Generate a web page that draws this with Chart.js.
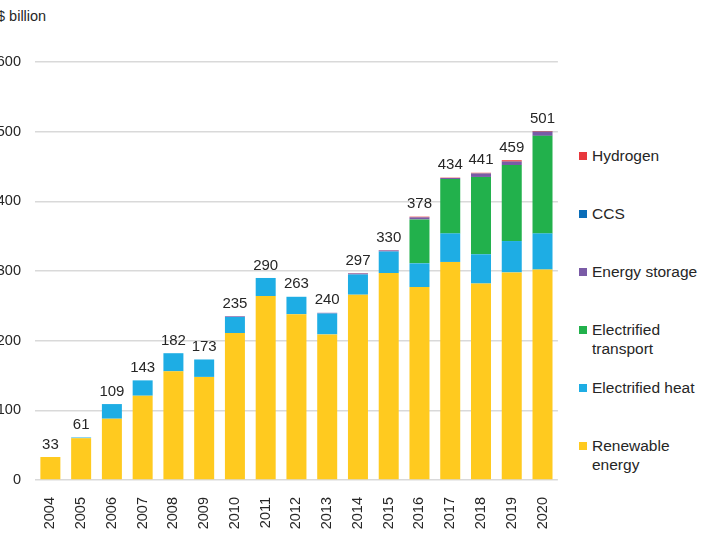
<!DOCTYPE html>
<html>
<head>
<meta charset="utf-8">
<script src="https://cdn.jsdelivr.net/npm/chart.js@4"></script>
<style>
    body { margin: 0; background: #fff; font-family: "Liberation Sans", Arial, sans-serif; overflow: hidden; }
    #wrap { position: relative; width: 711px; height: 533px; }
    #caixa { position: absolute; left: 0; top: 0; width: 569px; height: 533px; }
    #unidade { position: absolute; left: -3px; top: 8px; font-size: 14.5px; color: #262626; }
    #legenda { position: absolute; left: 579px; top: 146px; }
    .item { height: 58px; font-size: 15.5px; line-height: 19px; color: #262626; position: relative; padding-left: 13px; white-space: pre-line; }
    .quad { position: absolute; left: 0; top: 6px; width: 8px; height: 8px; }
</style>
</head>
<body>
<div id="wrap">
    <div id="unidade">$ billion</div>
    <div id="caixa"><canvas id="grafico"></canvas></div>
    <div id="legenda"></div>
</div>
<script>
var anos = ['2004', '2005', '2006', '2007', '2008', '2009', '2010', '2011', '2012', '2013', '2014', '2015', '2016', '2017', '2018', '2019', '2020'];
var totais = [33, 61, 109, 143, 182, 173, 235, 290, 263, 240, 297, 330, 378, 434, 441, 459, 501];

var renovavel = [33, 60, 88, 121, 156, 148, 211, 264, 238, 209, 266, 297, 277, 313, 282, 298, 302];
var calor = [0, 1, 21, 22, 26, 25, 23, 26, 25, 30, 29, 31, 34, 41, 42, 45, 52];
var transporte = [0, 0, 0, 0, 0, 0, 0, 0, 0, 0, 0, 0, 63, 78, 111, 109, 140];
var armazenamento = [0, 0, 0, 0, 0, 0, 1, 0, 0, 1, 1.5, 1.5, 3, 1.5, 4.7, 4.7, 5.7];
var ccs = [0, 0, 0, 0, 0, 0, 0, 0, 0, 0, 0, 0, 0, 0, 0.3, 0.3, 0.3];
var hidrogenio = [0, 0, 0, 0, 0, 0, 0, 0, 0, 0, 0.5, 0.5, 1, 0.5, 1, 2, 1];

var ticksY = [0, 100, 200, 300, 400, 500, 600];

// escreve o total em cima de cada barra
var rotuloTotal = {
    id: 'rotuloTotal',
    afterDatasetsDraw: function (chart) {
        var ctx = chart.ctx;
        var topo = chart.getDatasetMeta(chart.data.datasets.length - 1);
        ctx.save();
        ctx.font = '15px "Liberation Sans", Arial, sans-serif';
        ctx.fillStyle = '#262626';
        ctx.textAlign = 'center';
        ctx.textBaseline = 'bottom';
        for (var i = 0; i < totais.length; i++) {
            var barra = topo.data[i];
            var y = chart.scales.y.getPixelForValue(totais[i]);
            ctx.fillText(totais[i], barra.x, y - 5);
        }
        ctx.restore();
    }
};

var ctx = document.getElementById('grafico').getContext('2d');
var chart = new Chart(ctx, {
    type: 'bar',
    data: {
        labels: anos,
        datasets: [
            { label: 'Renewable energy', data: renovavel, backgroundColor: '#FFCA1F', legenda: 'Renewable\nenergy' },
            { label: 'Electrified heat', data: calor, backgroundColor: '#1EADE4', legenda: 'Electrified heat' },
            { label: 'Electrified transport', data: transporte, backgroundColor: '#22B14C', legenda: 'Electrified\ntransport' },
            { label: 'Energy storage', data: armazenamento, backgroundColor: '#7A5BA6', legenda: 'Energy storage' },
            { label: 'CCS', data: ccs, backgroundColor: '#0A6DB8', legenda: 'CCS' },
            { label: 'Hydrogen', data: hidrogenio, backgroundColor: '#E8383D', legenda: 'Hydrogen' }
        ]
    },
    options: {
        responsive: true,
        maintainAspectRatio: false,
        animation: false,
        layout: { padding: { top: 62, right: 3, left: 0, bottom: 0 } },
        datasets: { bar: { categoryPercentage: 1, barPercentage: 0.65 } },
        plugins: {
            legend: { display: false },
            tooltip: { enabled: false }
        },
        scales: {
            x: {
                stacked: true,
                grid: { display: false },
                border: { display: false },
                ticks: {
                    color: '#262626',
                    font: { size: 14.5, family: '"Liberation Sans", Arial, sans-serif' },
                    minRotation: 90,
                    maxRotation: 90,
                    padding: 9
                },
                afterFit: function (scale) { scale.height = 53; }
            },
            y: {
                stacked: true,
                min: 0,
                max: 600,
                afterBuildTicks: function (scale) {
                    scale.ticks = ticksY.map(function (v) { return { value: v }; });
                },
                grid: { color: '#D9D9D9', lineWidth: 1.5, drawTicks: false },
                border: { display: false },
                ticks: {
                    color: '#262626',
                    font: { size: 14.5, family: '"Liberation Sans", Arial, sans-serif' },
                    padding: 14
                },
                afterFit: function (scale) { scale.width = 35; }
            }
        }
    },
    plugins: [rotuloTotal]
});

// legenda feita a mao, de cima pra baixo na ordem inversa da pilha
function montarLegenda() {
    var div = document.getElementById('legenda');
    var ds = chart.data.datasets.slice().reverse();
    for (var i = 0; i < ds.length; i++) {
        var item = document.createElement('div');
        item.className = 'item';
        var quad = document.createElement('span');
        quad.className = 'quad';
        quad.style.background = ds[i].backgroundColor;
        item.appendChild(quad);
        item.appendChild(document.createTextNode(ds[i].legenda));
        div.appendChild(item);
    }
}
montarLegenda();
</script>
</body>
</html>
